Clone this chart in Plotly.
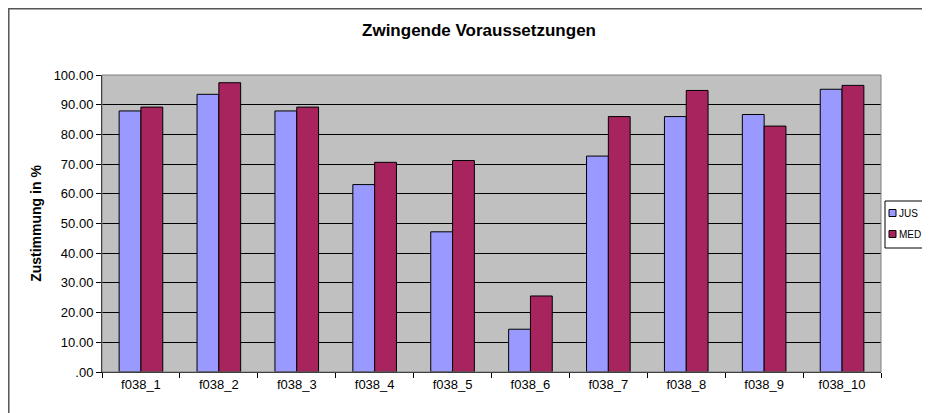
import plotly.graph_objects as go

categories = ["f038_1", "f038_2", "f038_3", "f038_4", "f038_5",
              "f038_6", "f038_7", "f038_8", "f038_9", "f038_10"]
jus_values = [87.9, 93.5, 87.9, 63.1, 47.2, 14.4, 72.7, 86.0, 86.7, 95.2]
med_values = [89.2, 97.4, 89.2, 70.6, 71.2, 25.6, 86.0, 94.8, 82.8, 96.5]
series_names = ["JUS", "MED"]
series_colors = ["#9999FF", "#A8245F"]
y_tick_vals = [0, 10, 20, 30, 40, 50, 60, 70, 80, 90, 100]
y_tick_text = [".00", "10.00", "20.00", "30.00", "40.00", "50.00",
               "60.00", "70.00", "80.00", "90.00", "100.00"]

FONT = "Liberation Sans, Arial, sans-serif"

fig = go.Figure()
for name, vals, col in zip(series_names, [jus_values, med_values], series_colors):
    fig.add_trace(go.Bar(x=categories, y=vals, name=name,
                         marker=dict(color=col, line=dict(color="#000000", width=1))))

OFF = 8  # page body margin
W, H = 914, 405
L, R, T, B = 102 - OFF, 881 - OFF, 75 - OFF, 372 - OFF

def px_x(p):
    # p is a screen x (reference coords)
    return (p - OFF - L) / (R - L)

def px_y(p):
    return (B - (p - OFF)) / (B - T)

shapes = [
    dict(type="rect", xref="paper", yref="paper", x0=0, y0=0, x1=1, y1=1,
         line=dict(color="#808080", width=1), layer="above"),
    dict(type="rect", xref="paper", yref="paper",
         x0=px_x(8.8), y0=px_y(440), x1=px_x(960), y1=px_y(8.8),
         line=dict(color="#555555", width=1.5)),
    dict(type="rect", xref="paper", yref="paper",
         x0=px_x(885), y0=px_y(248), x1=px_x(990), y1=px_y(201),
         line=dict(color="#000000", width=1), fillcolor="#FFFFFF"),
]
annotations = []
for i, (name, col) in enumerate(zip(series_names, series_colors)):
    cy = 213 + i * 21
    shapes.append(dict(type="rect", xref="paper", yref="paper",
                       x0=px_x(889), x1=px_x(896), y0=px_y(cy + 3.5), y1=px_y(cy - 3.5),
                       line=dict(color="#000000", width=1), fillcolor=col))
    annotations.append(dict(text=name, xref="paper", yref="paper",
                            x=px_x(897), y=px_y(cy), xanchor="left", yanchor="middle",
                            showarrow=False,
                            font=dict(family=FONT, size=10, color="#000000")))

fig.update_layout(
    width=W, height=H,
    margin=dict(l=L, r=W - R, t=T, b=H - B, pad=0, autoexpand=False),
    paper_bgcolor="#FFFFFF",
    plot_bgcolor="#C0C0C0",
    barmode="group",
    bargap=0.44,
    bargroupgap=0,
    font=dict(family=FONT, size=12, color="#000000"),
    title=dict(text="<b>Zwingende Voraussetzungen</b>", x=(479 - OFF) / W, xref="container",
               xanchor="center", y=1 - (30 - OFF) / H, yref="container", yanchor="middle",
               font=dict(family=FONT, size=17, color="#000000")),
    showlegend=False,
    xaxis=dict(showgrid=False, showline=True, linecolor="#000000", linewidth=1,
               ticks="outside", ticklen=5, tickcolor="#000000", tickson="boundaries",
               tickfont=dict(family=FONT, size=13), mirror=False),
    yaxis=dict(range=[0, 100], tickvals=y_tick_vals, ticktext=y_tick_text,
               showgrid=True, gridcolor="#000000", gridwidth=1,
               showline=True, linecolor="#000000", linewidth=1,
               ticks="outside", ticklen=5, tickcolor="#000000",
               tickfont=dict(family=FONT, size=13),
               title=dict(text="<b>Zustimmung in %</b>", standoff=8,
                          font=dict(family=FONT, size=14)),
               zeroline=False),
    shapes=shapes,
    annotations=annotations,
)

fig.write_html("out.html")
